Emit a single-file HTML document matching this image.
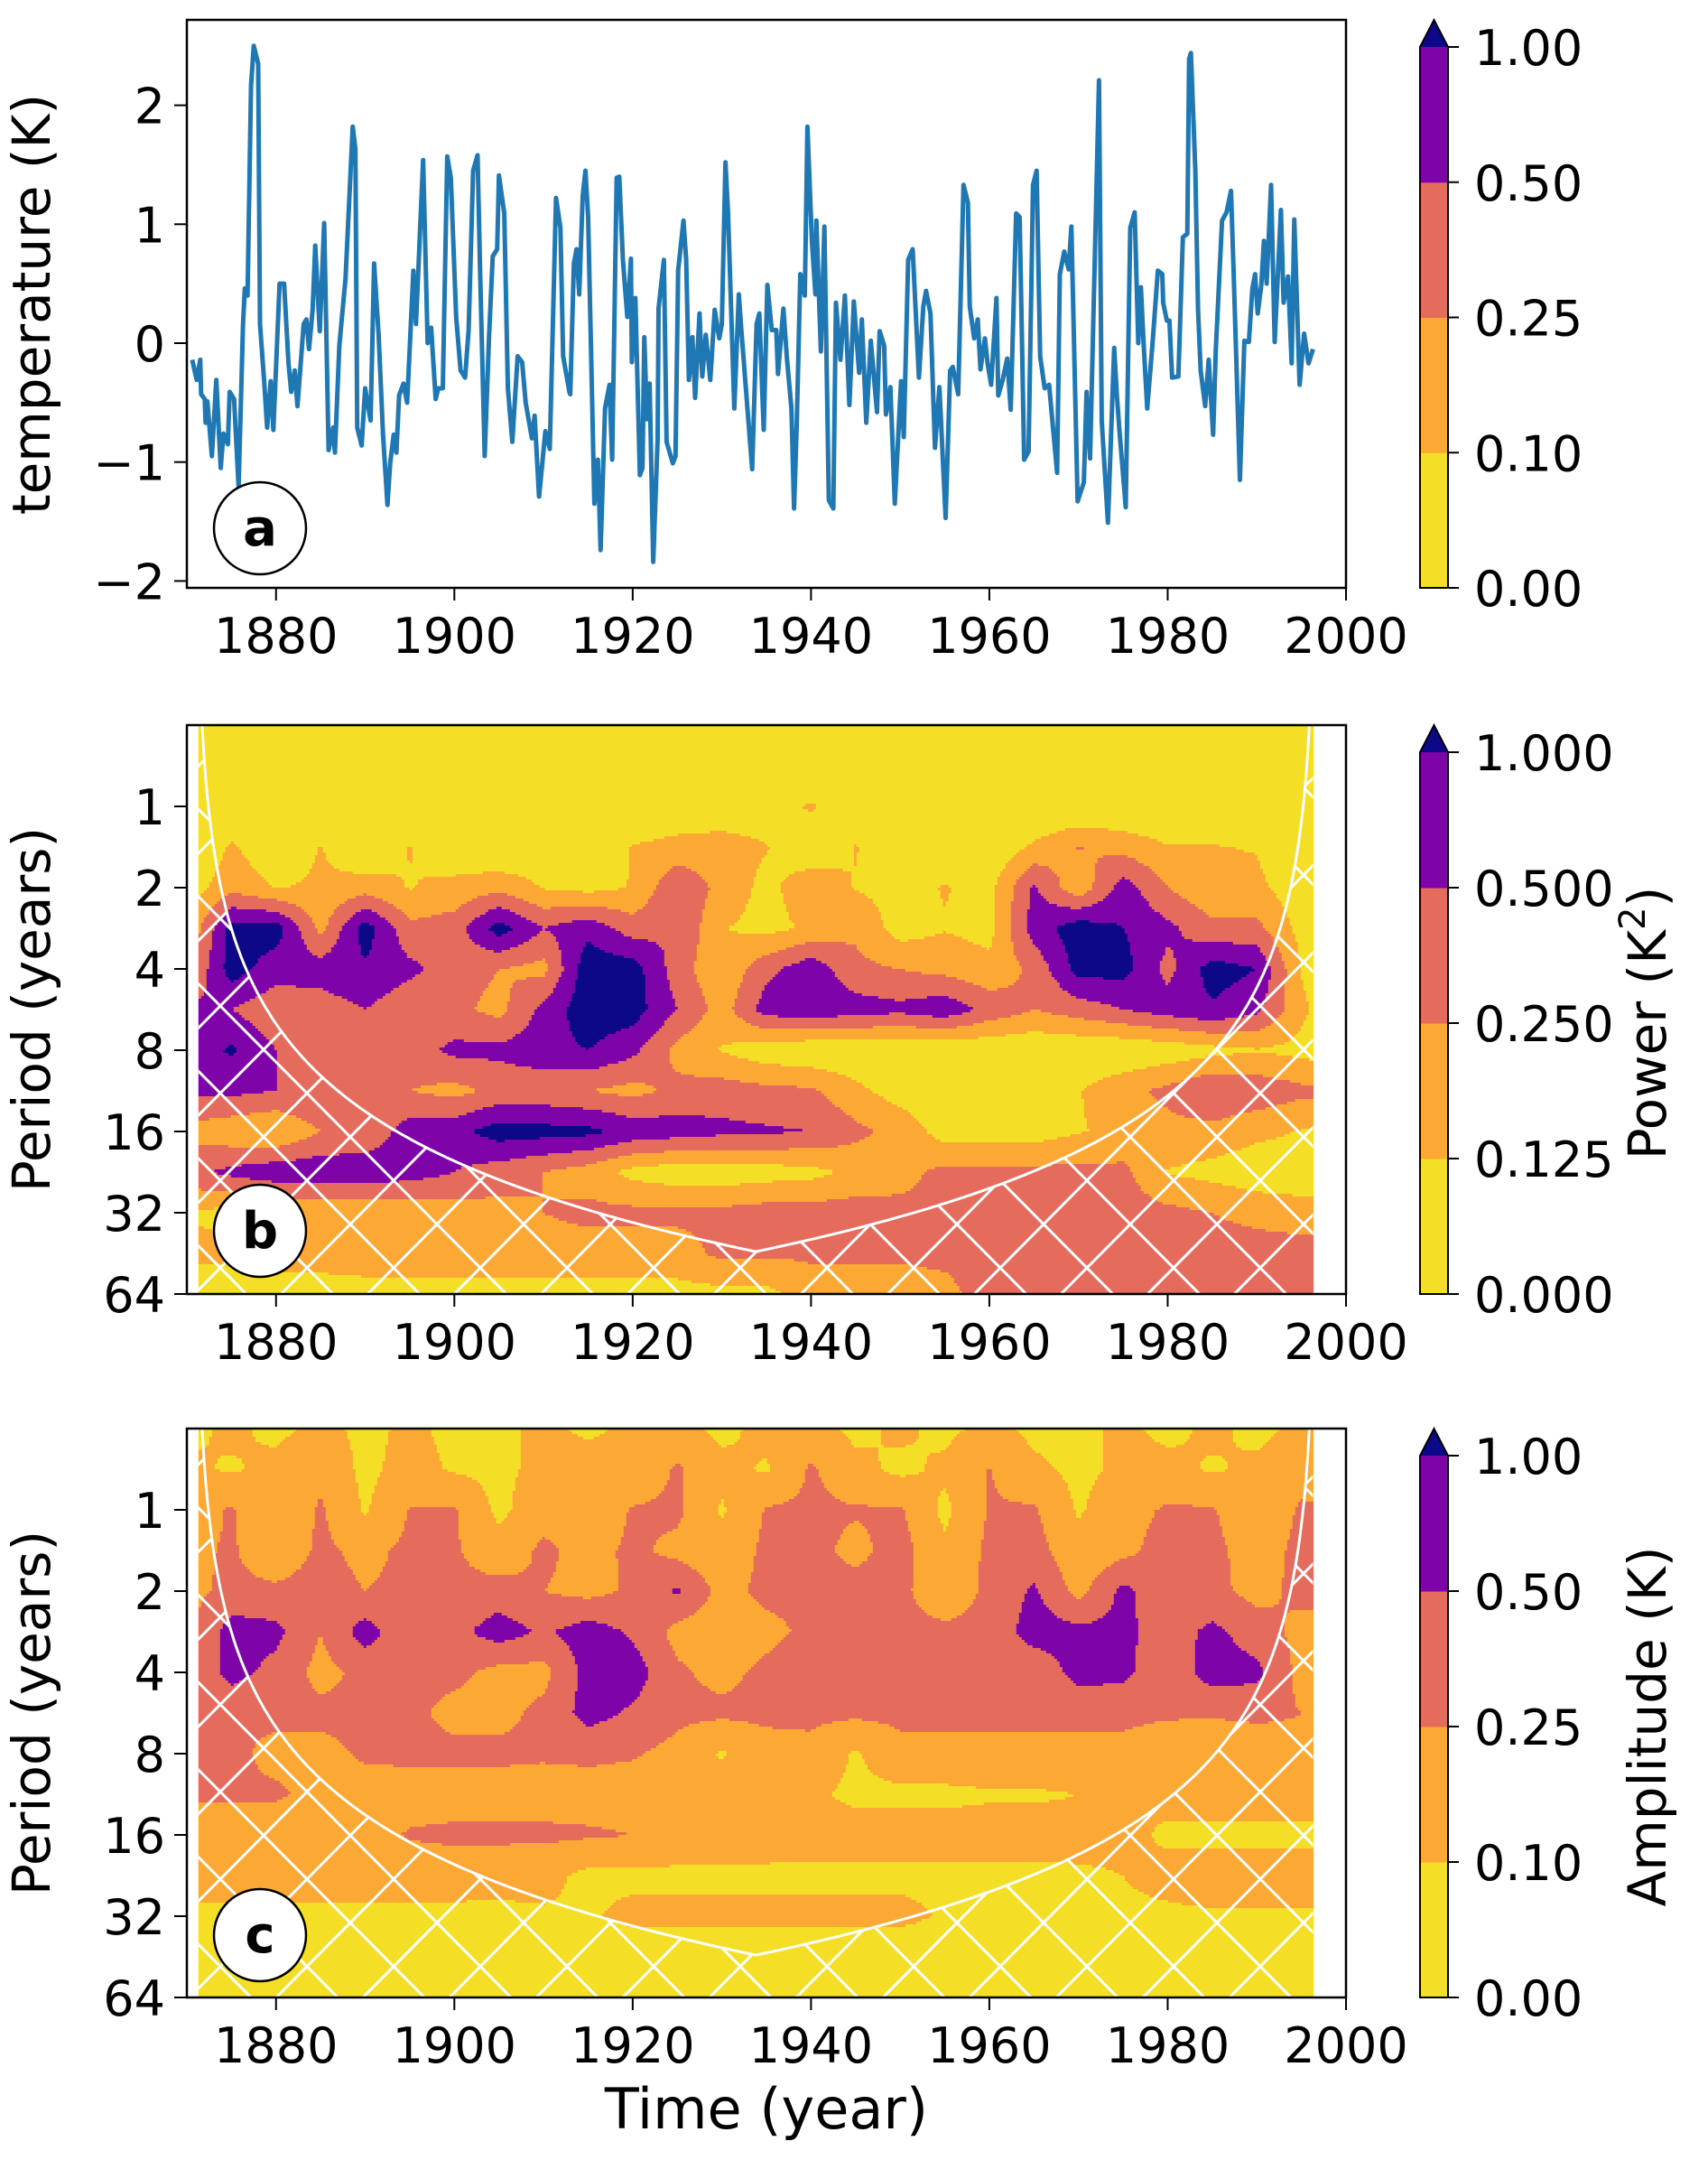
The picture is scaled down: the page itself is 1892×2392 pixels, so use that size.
<!DOCTYPE html>
<html><head><meta charset="utf-8"><title>Wavelet analysis</title>
<style>
html,body{margin:0;padding:0;background:#fff;}
svg{display:block;font-family:"DejaVu Sans","Liberation Sans",sans-serif;}
</style></head>
<body>
<svg id="fig" width="1892" height="2392" viewBox="0 0 1892 2392" xmlns="http://www.w3.org/2000/svg">
<defs>
<pattern id="hatch" patternUnits="userSpaceOnUse" x="4" y="1.9" width="96" height="96.7">
<line x1="0" y1="0" x2="96" y2="96.7" stroke="#fff" stroke-width="3"/>
<line x1="96" y1="0" x2="0" y2="96.7" stroke="#fff" stroke-width="3"/>
</pattern>
</defs>
<g id="layer"></g>
</svg>
<script>
// ---------- panel a data ----------
const tempYears = [1870.6,1871.1,1871.5,1871.6,1872.0,1872.1,1872.3,1872.8,1873.3,1873.8,1874.1,1874.6,1874.8,1875.3,1875.8,1876.3,1876.5,1876.8,1877.2,1877.5,1878.0,1878.2,1878.7,1879.0,1879.4,1879.7,1880.4,1880.9,1881.4,1881.7,1882.1,1882.4,1883.1,1883.4,1883.7,1884.1,1884.4,1884.9,1885.4,1885.9,1886.4,1886.6,1887.1,1887.8,1888.6,1888.9,1889.1,1889.6,1890.0,1890.6,1891.0,1891.5,1892.0,1892.5,1892.8,1893.2,1893.5,1893.8,1894.3,1894.7,1895.4,1895.7,1896.5,1897.0,1897.4,1897.9,1898.2,1898.7,1899.2,1899.6,1900.2,1900.7,1901.2,1901.6,1902.1,1902.6,1902.9,1903.4,1903.9,1904.3,1904.8,1905.0,1905.6,1906.0,1906.5,1907.1,1907.6,1908.0,1908.7,1909.0,1909.5,1909.8,1910.2,1910.7,1911.4,1911.9,1912.2,1912.9,1913.0,1913.4,1913.7,1914.0,1914.4,1914.7,1915.0,1915.7,1916.1,1916.4,1916.9,1917.4,1917.7,1918.2,1918.5,1918.9,1919.4,1919.8,1919.9,1920.3,1920.8,1921.1,1921.3,1921.6,1921.9,1922.3,1922.8,1922.9,1923.5,1923.8,1924.5,1924.8,1925.1,1925.7,1926.0,1926.3,1926.7,1927.0,1927.5,1927.8,1928.2,1928.7,1929.2,1929.7,1930.0,1930.4,1930.7,1931.4,1931.9,1932.2,1933.4,1933.9,1934.2,1934.7,1935.1,1935.6,1936.1,1936.3,1936.9,1937.3,1937.8,1938.1,1938.4,1938.8,1939.3,1939.6,1940.1,1940.5,1940.6,1941.1,1941.5,1942.0,1942.5,1942.8,1943.3,1943.8,1944.3,1944.8,1945.4,1945.7,1946.2,1946.7,1947.4,1947.7,1948.2,1948.4,1948.9,1949.4,1950.1,1950.4,1950.9,1951.4,1952.1,1952.6,1952.9,1953.4,1953.9,1954.4,1955.1,1955.6,1955.9,1956.5,1957.1,1957.6,1957.8,1958.3,1958.7,1959.0,1959.5,1959.8,1960.2,1960.8,1961.0,1961.5,1962.0,1962.4,1963.0,1963.4,1963.9,1964.4,1964.9,1965.3,1965.7,1966.2,1966.7,1967.6,1967.9,1968.4,1968.9,1969.2,1969.9,1970.6,1970.9,1971.3,1972.3,1972.6,1973.3,1974.0,1974.3,1974.6,1975.3,1975.8,1976.3,1976.7,1977.0,1977.3,1977.7,1978.3,1978.9,1979.4,1979.5,1979.9,1980.2,1980.5,1981.2,1981.7,1982.2,1982.4,1982.6,1983.1,1983.4,1983.7,1984.2,1984.6,1985.1,1985.4,1986.1,1986.6,1987.1,1987.4,1988.1,1988.6,1989.1,1989.5,1989.8,1990.1,1990.5,1990.8,1991.1,1991.6,1992.0,1992.7,1993.0,1993.5,1993.9,1994.2,1994.8,1995.3,1995.8,1996.3];
const tempVals = [-0.14,-0.31,-0.14,-0.43,-0.47,-0.67,-0.49,-0.95,-0.31,-1.05,-0.76,-0.85,-0.41,-0.47,-1.21,0.16,0.46,0.40,2.17,2.50,2.35,0.16,-0.35,-0.71,-0.32,-0.73,0.50,0.50,-0.17,-0.41,-0.23,-0.53,0.16,0.20,-0.05,0.28,0.82,0.10,1.01,-0.90,-0.71,-0.92,-0.02,0.55,1.82,1.63,-0.71,-0.86,-0.38,-0.65,0.67,0.07,-0.77,-1.36,-1.01,-0.77,-0.92,-0.44,-0.34,-0.50,0.61,0.16,1.54,0.00,0.13,-0.47,-0.38,-0.38,1.57,1.39,0.22,-0.23,-0.29,0.11,1.45,1.58,0.55,-0.95,0.07,0.73,0.79,1.41,1.09,-0.38,-0.83,-0.11,-0.16,-0.50,-0.80,-0.61,-1.29,-1.06,-0.74,-0.89,1.22,0.97,-0.11,-0.41,-0.43,0.67,0.79,0.41,1.24,1.45,1.06,-1.35,-0.98,-1.74,-0.55,-0.35,-0.98,1.39,1.40,0.70,0.22,0.71,-0.16,0.38,-1.11,-1.05,0.05,-0.64,-0.34,-1.84,-0.80,0.29,0.70,-0.83,-1.01,-0.95,0.61,1.03,0.70,-0.31,0.05,-0.46,0.25,-0.28,0.07,-0.31,0.28,0.04,0.16,1.52,1.09,-0.55,0.41,0.10,-1.06,0.16,0.25,-0.73,0.49,0.11,0.11,-0.26,0.29,-0.13,-0.55,-1.39,-0.68,0.58,0.40,1.82,0.85,0.41,1.03,-0.07,0.98,-1.32,-1.39,0.34,-0.14,0.40,-0.52,0.35,-0.25,0.20,-0.67,0.02,-0.58,0.10,-0.02,-0.60,-0.37,-1.35,-0.32,-0.79,0.70,0.79,-0.29,0.31,0.44,0.25,-0.88,-0.37,-1.47,-0.23,-0.20,-0.43,1.33,1.18,0.31,0.04,0.20,-0.22,0.04,-0.17,-0.35,0.38,-0.44,-0.31,-0.13,-0.56,1.09,1.06,-0.98,-0.91,1.33,1.45,-0.11,-0.38,-0.35,-1.09,0.58,0.77,0.62,0.98,-1.33,-1.17,-0.41,-0.97,2.21,-0.65,-1.51,-0.04,-0.44,-0.74,-1.38,0.97,1.10,0.00,0.47,0.00,-0.55,0.00,0.61,0.58,0.34,0.19,0.19,-0.29,-0.28,0.89,0.92,2.39,2.44,1.45,0.28,-0.23,-0.53,-0.14,-0.77,-0.05,1.03,1.10,1.28,0.58,-1.15,0.02,0.01,0.46,0.58,0.25,0.49,0.86,0.50,1.33,0.01,1.12,0.34,0.56,-0.17,1.04,-0.35,0.08,-0.17,-0.05];
const tempTicks = [-2,-1,0,1,2];
const yearTicks = [1880,1900,1920,1940,1960,1980,2000];
const periodTicks = [1,2,4,8,16,32,64];

// ---------- wavelet grids (columns: 1870..2000 step 5; rows: log2 period -1..6 step 0.5) ----------
const gridYears = [1870,1875,1880,1885,1890,1895,1900,1905,1910,1915,1920,1925,1930,1935,1940,1945,1950,1955,1960,1965,1970,1975,1980,1985,1990,1995,2000];
const gridLog2Period = [-1,-0.5,0,0.5,1,1.5,2,2.5,3,3.5,4,4.5,5,5.5,6];
const powerGrid = [
[.03,.03,.03,.03,.03,.03,.03,.03,.03,.03,.03,.03,.03,.03,.03,.03,.03,.03,.03,.03,.03,.03,.03,.03,.03,.03,.03],
[.04,.04,.04,.04,.04,.04,.04,.04,.04,.04,.04,.05,.04,.04,.05,.04,.04,.04,.04,.04,.04,.04,.04,.04,.04,.04,.04],
[.05,.06,.06,.06,.06,.06,.06,.06,.06,.06,.06,.07,.07,.08,.14,.07,.06,.06,.06,.06,.06,.06,.06,.06,.05,.04,.04],
[.05,.14,.07,.13,.06,.13,.07,.06,.08,.06,.13,.16,.18,.13,.07,.13,.07,.08,.07,.14,.26,.20,.13,.13,.12,.05,.05],
[.08,.20,.12,.14,.18,.12,.16,.20,.12,.10,.13,.45,.20,.10,.20,.12,.10,.13,.10,.55,.15,.70,.25,.14,.15,.08,.05],
[.12,1.3,1.4,.20,1.4,.30,.35,1.4,.50,.80,.35,.50,.13,.10,.14,.22,.09,.12,.10,.70,1.5,1.0,.60,.30,.30,.10,.05],
[.20,1.4,.70,.70,.90,.60,.35,.25,.20,1.6,1.4,.35,.14,.40,.80,.30,.25,.20,.15,.30,1.3,1.3,.40,1.4,1.0,.12,.05],
[.60,.50,.30,.35,.50,.30,.30,.20,.60,1.6,1.4,.50,.18,.70,.80,.70,.60,.80,.40,.25,.35,.50,.70,.90,.60,.15,.05],
[.70,1.1,.50,.25,.30,.35,.60,.60,.80,1.0,.60,.20,.12,.08,.07,.07,.07,.07,.07,.07,.07,.07,.08,.10,.12,.10,.08],
[.60,.60,.50,.50,.40,.25,.20,.30,.30,.25,.20,.30,.35,.30,.28,.15,.09,.08,.08,.09,.12,.20,.30,.50,.40,.30,.30],
[.20,.15,.12,.25,.30,.70,.80,1.4,1.3,1.2,.80,.70,.60,.55,.50,.30,.20,.09,.09,.09,.12,.14,.20,.20,.15,.12,.12],
[.40,.60,.80,.80,.80,.70,.50,.35,.25,.18,.10,.08,.08,.09,.10,.15,.20,.30,.30,.30,.30,.30,.12,.10,.08,.08,.08],
[.12,.10,.12,.15,.15,.15,.18,.20,.25,.30,.30,.30,.30,.35,.35,.35,.30,.30,.30,.45,.40,.35,.30,.25,.20,.17,.15],
[.15,.15,.16,.17,.17,.17,.18,.18,.18,.18,.18,.18,.30,.28,.28,.28,.28,.30,.35,.35,.35,.35,.35,.35,.35,.35,.35],
[.08,.08,.09,.09,.10,.10,.10,.10,.10,.10,.10,.10,.10,.10,.18,.18,.18,.20,.35,.35,.35,.35,.35,.35,.35,.35,.35]
];
const ampGrid = [
[.08,.12,.08,.13,.08,.12,.08,.08,.13,.08,.13,.14,.08,.13,.14,.08,.12,.08,.13,.08,.08,.12,.08,.12,.08,.12,.08],
[.12,.09,.13,.20,.08,.14,.09,.08,.13,.18,.12,.28,.13,.09,.28,.13,.08,.12,.26,.12,.08,.12,.13,.09,.12,.18,.10],
[.14,.28,.10,.28,.09,.26,.27,.08,.18,.12,.27,.30,.09,.27,.30,.27,.28,.08,.27,.28,.09,.18,.28,.27,.13,.28,.28],
[.20,.28,.13,.30,.20,.30,.28,.14,.30,.18,.30,.20,.14,.30,.32,.20,.35,.12,.30,.35,.14,.20,.35,.30,.18,.30,.30],
[.20,.30,.30,.35,.25,.30,.30,.35,.25,.20,.28,.55,.20,.30,.30,.35,.30,.15,.30,.55,.20,.60,.30,.30,.20,.30,.30],
[.20,.70,.60,.25,.70,.28,.40,.70,.45,.70,.45,.20,.15,.20,.30,.30,.30,.30,.30,.70,.60,.60,.35,.60,.35,.20,.20],
[.25,.65,.40,.20,.30,.30,.30,.20,.20,.65,.70,.28,.20,.30,.40,.30,.30,.28,.30,.30,.65,.60,.30,.70,.60,.20,.20],
[.30,.28,.30,.30,.30,.30,.20,.20,.30,.65,.45,.30,.30,.30,.30,.30,.30,.30,.30,.30,.30,.30,.28,.28,.30,.25,.20],
[.30,.30,.20,.20,.28,.30,.30,.30,.28,.30,.27,.20,.09,.18,.20,.09,.20,.20,.20,.20,.20,.20,.15,.12,.15,.20,.20],
[.28,.28,.28,.20,.18,.17,.17,.17,.17,.17,.17,.17,.17,.15,.12,.08,.08,.08,.09,.09,.10,.10,.12,.15,.15,.15,.15],
[.15,.15,.15,.15,.18,.27,.30,.30,.30,.28,.25,.20,.18,.17,.15,.15,.15,.15,.15,.15,.13,.12,.09,.08,.08,.08,.08],
[.15,.15,.15,.15,.15,.15,.15,.14,.13,.08,.08,.08,.08,.08,.08,.08,.08,.08,.08,.08,.09,.10,.12,.15,.15,.15,.15],
[.08,.08,.08,.08,.08,.08,.08,.08,.09,.09,.13,.13,.13,.13,.13,.13,.13,.09,.09,.09,.09,.09,.09,.09,.09,.09,.09],
[.05,.05,.05,.05,.05,.05,.05,.05,.05,.05,.05,.05,.05,.05,.05,.05,.05,.05,.05,.05,.05,.05,.05,.05,.05,.05,.05],
[.05,.05,.05,.05,.05,.05,.05,.05,.05,.05,.05,.05,.05,.05,.05,.05,.05,.05,.05,.05,.05,.05,.05,.05,.05,.05,.05]
];
const powerLevels = [0.125,0.25,0.5,1.0];
const ampLevels = [0.1,0.25,0.5,1.0];
const powerTickLabels = ["0.000","0.125","0.250","0.500","1.000"];
const ampTickLabels = ["0.00","0.10","0.25","0.50","1.00"];
const levelColors = ["#f5df26","#fba835","#e56b5d","#7e03a8","#0d0887"];

// ---------- layout ----------
const NS = "http://www.w3.org/2000/svg";
const root = document.getElementById("layer");
const X0 = 207, PXY = 9.877;
const xOf = y => X0 + (y - 1870) * PXY;
const yearOf = x => 1870 + (x - X0) / PXY;
const AX_L = 207, AX_R = 1491;
const DATA_L = xOf(1871.3), DATA_R = xOf(1996.3);
const panelA = {top:22, bottom:651};
const panelB = {top:803, bottom:1433};
const panelC = {top:1582, bottom:2212};
const tempY = v => 380 - v * 131.7;

function el(tag, parent){ const e = document.createElementNS(NS, tag); parent.appendChild(e); return e; }
function txt(parent, s, x, y, size, anchor){
  const t = el("text", parent);
  t.setAttribute("x", x); t.setAttribute("y", y);
  t.setAttribute("font-size", size); t.setAttribute("text-anchor", anchor || "middle");
  t.setAttribute("fill", "#000");
  t.textContent = s;
  return t;
}

function sampleGrid(grid, yr, p){
  let fx = (yr - gridYears[0]) / 5, fy = (p - gridLog2Period[0]) / 0.5;
  fx = Math.max(0, Math.min(gridYears.length - 1.0001, fx));
  fy = Math.max(0, Math.min(gridLog2Period.length - 1.0001, fy));
  const i = Math.floor(fx), j = Math.floor(fy), u = fx - i, v = fy - j;
  const L = (a) => Math.log(a);
  const val = (1-u)*(1-v)*L(grid[j][i]) + u*(1-v)*L(grid[j][i+1]) + (1-u)*v*L(grid[j+1][i]) + u*v*L(grid[j+1][i+1]);
  return Math.exp(val);
}
function classOf(v, levels){ let c = 0; for (const l of levels) if (v >= l) c++; return c; }

function drawContour(panel, grid, levels, name){
  const g = el("g", root);
  
  
  const step = 3, octave = (panel.bottom - panel.top) / 7;
  for (let y = panel.top; y < panel.bottom; y += step) {
    const p = -1 + (y + step/2 - panel.top) / octave;
    let runStart = DATA_L, runCls = -1;
    const flush = (xEnd) => {
      if (runCls < 0) return;
      const r = el("rect", g);
      
      
      r.setAttribute("x", runStart.toFixed(1)); r.setAttribute("y", y);
      r.setAttribute("width", (xEnd - runStart + 0.6).toFixed(1));
      r.setAttribute("height", Math.min(step, panel.bottom - y) + 0.5);
      r.setAttribute("fill", levelColors[runCls]);
    };
    for (let x = DATA_L; x < DATA_R; x += step) {
      const c = classOf(sampleGrid(grid, yearOf(x + step/2), p), levels);
      if (c !== runCls) { flush(x); runStart = x; runCls = c; }
    }
    flush(DATA_R);
  }
}

function coiPoints(panel){
  const octave = (panel.bottom - panel.top) / 7, pts = [];
  for (let t = 1871.3; t <= 1996.31; t += 0.2) {
    const per = 0.71 * Math.max(0.01, Math.min(t - 1871.0, 1996.6 - t));
    let p = Math.log2(per); if (p < -1) p = -1.02;
    let y = panel.top + (p + 1) * octave; y = Math.min(y, panel.bottom);
    pts.push([xOf(t), y]);
  }
  return pts;
}
function drawCOI(panel, id){
  const pts = coiPoints(panel);
  const cp = el("clipPath", root); cp.setAttribute("id", id);
  const poly = el("polygon", cp);
  const all = [[DATA_L, panel.bottom]].concat(pts, [[DATA_R, panel.bottom]]);
  poly.setAttribute("points", all.map(q => q[0].toFixed(1)+","+q[1].toFixed(1)).join(" "));
  const h = el("rect", root);
  
  
  h.setAttribute("x", DATA_L); h.setAttribute("y", panel.top);
  h.setAttribute("width", DATA_R - DATA_L); h.setAttribute("height", panel.bottom - panel.top);
  h.setAttribute("fill", "url(#hatch)"); h.setAttribute("clip-path", "url(#"+id+")");
  const line = el("polyline", root);
  
  
  line.setAttribute("points", pts.map(q => q[0].toFixed(1)+","+q[1].toFixed(1)).join(" "));
  line.setAttribute("fill", "none"); line.setAttribute("stroke", "#fff"); line.setAttribute("stroke-width", "3");
}

function drawFrame(panel, name){
  const r = el("rect", root);
  
  
  r.setAttribute("x", AX_L); r.setAttribute("y", panel.top);
  r.setAttribute("width", AX_R - AX_L); r.setAttribute("height", panel.bottom - panel.top);
  r.setAttribute("fill", "none"); r.setAttribute("stroke", "#000"); r.setAttribute("stroke-width", "2.5");
}
function drawXAxis(panel, name){
  const g = el("g", root);
  
  
  for (const yr of yearTicks) {
    const x = xOf(yr);
    const t = el("line", g);
    
    
    t.setAttribute("x1", x); t.setAttribute("x2", x); t.setAttribute("y1", panel.bottom); t.setAttribute("y2", panel.bottom + 14);
    t.setAttribute("stroke", "#000"); t.setAttribute("stroke-width", "2");
    const l = txt(g, String(yr), x, panel.bottom + 72, 54);
    
    
  }
}
function drawPeriodAxis(panel, name){
  const g = el("g", root);
  
  
  const octave = (panel.bottom - panel.top) / 7;
  for (const per of periodTicks) {
    const y = panel.top + (Math.log2(per) + 1) * octave;
    const t = el("line", g);
    
    
    t.setAttribute("x1", AX_L - 14); t.setAttribute("x2", AX_L); t.setAttribute("y1", y); t.setAttribute("y2", y);
    t.setAttribute("stroke", "#000"); t.setAttribute("stroke-width", "2");
    const l = txt(g, String(per), AX_L - 24, y + 20, 54, "end");
    
    
  }
}
function drawColorbar(panel, labels, name){
  const g = el("g", root);
  
  
  const x0 = 1573, x1 = 1604, top = panel.top + 30, bot = panel.bottom, h = (bot - top) / 4;
  for (let i = 0; i < 4; i++) {
    const r = el("rect", g);
    
    
    r.setAttribute("x", x0); r.setAttribute("y", bot - (i+1)*h); r.setAttribute("width", x1 - x0); r.setAttribute("height", h + 0.5);
    r.setAttribute("fill", levelColors[i]);
  }
  const tri = el("polygon", g);
  
  
  tri.setAttribute("points", `${x0},${top} ${(x0+x1)/2},${panel.top} ${x1},${top}`);
  tri.setAttribute("fill", levelColors[4]);
  const out = el("polygon", g);
  
  
  out.setAttribute("points", `${x0},${bot} ${x0},${top} ${(x0+x1)/2},${panel.top} ${x1},${top} ${x1},${bot}`);
  out.setAttribute("fill", "none"); out.setAttribute("stroke", "#000"); out.setAttribute("stroke-width", "2");
  for (let i = 0; i < 5; i++) {
    const y = bot - i*h;
    const t = el("line", g);
    
    
    t.setAttribute("x1", x1); t.setAttribute("x2", x1 + 12); t.setAttribute("y1", y); t.setAttribute("y2", y);
    t.setAttribute("stroke", "#000"); t.setAttribute("stroke-width", "2");
    const l = txt(g, labels[i], 1633, y + 20, 54, "start");
    
    
  }
}
function drawBadge(cx, cy, letter, name){
  const g = el("g", root);
  
  
  const c = el("ellipse", g);
  c.setAttribute("cx", cx); c.setAttribute("cy", cy); c.setAttribute("rx", 51); c.setAttribute("ry", 51);
  c.setAttribute("fill", "#fff"); c.setAttribute("stroke", "#000"); c.setAttribute("stroke-width", "2.5");
  const t = txt(g, letter, cx, cy + 19, 56);
  t.setAttribute("font-weight", "bold");
}
function rotLabel(s, x, y, name){
  const t = txt(root, s, x, y, 58);
  t.setAttribute("transform", `rotate(-90 ${x} ${y})`);
  
  
  return t;
}

// ---------- panel a ----------
{
  const line = el("polyline", root);
  
  
  line.setAttribute("points", tempYears.map((yr, i) => xOf(yr).toFixed(1) + "," + tempY(tempVals[i]).toFixed(1)).join(" "));
  line.setAttribute("fill", "none"); line.setAttribute("stroke", "#1f77b4"); line.setAttribute("stroke-width", "5");
  line.setAttribute("stroke-linejoin", "round");
  drawFrame(panelA, "panel-a-frame");
  drawXAxis(panelA, "panel-a-x-axis");
  const g = el("g", root);
  
  
  for (const v of tempTicks) {
    const y = tempY(v);
    const t = el("line", g);
    
    
    t.setAttribute("x1", AX_L - 14); t.setAttribute("x2", AX_L); t.setAttribute("y1", y); t.setAttribute("y2", y);
    t.setAttribute("stroke", "#000"); t.setAttribute("stroke-width", "2");
    const l = txt(g, v < 0 ? "\u2212" + Math.abs(v) : String(v), AX_L - 24, y + 20, 54, "end");
    
    
  }
  rotLabel("temperature (K)", 55, 337, "y-axis-title-temperature");
  drawBadge(288, 585, "a", "panel-label-a");
  drawColorbar(panelA, ampTickLabels, "colorbar-a");
}

// ---------- panel b ----------
drawContour(panelB, powerGrid, powerLevels, "power-contours");
drawCOI(panelB, "coiB");
drawFrame(panelB, "panel-b-frame");
drawXAxis(panelB, "panel-b-x-axis");
drawPeriodAxis(panelB, "panel-b-y-axis");
rotLabel("Period (years)", 55, 1118, "y-axis-title-period-b");
drawBadge(288, 1363, "b", "panel-label-b");
drawColorbar(panelB, powerTickLabels, "colorbar-power");
{
  const t = rotLabel("Power (K", 1845, 1133, "colorbar-title-power");
  const sup = document.createElementNS(NS, "tspan");
  sup.setAttribute("baseline-shift", "super"); sup.setAttribute("font-size", "40");
  sup.textContent = "2";
  t.appendChild(sup);
  const close = document.createElementNS(NS, "tspan");
  close.textContent = ")";
  t.appendChild(close);
}

// ---------- panel c ----------
drawContour(panelC, ampGrid, ampLevels, "amplitude-contours");
drawCOI(panelC, "coiC");
drawFrame(panelC, "panel-c-frame");
drawXAxis(panelC, "panel-c-x-axis");
drawPeriodAxis(panelC, "panel-c-y-axis");
rotLabel("Period (years)", 55, 1897, "y-axis-title-period-c");
drawBadge(288, 2143, "c", "panel-label-c");
drawColorbar(panelC, ampTickLabels, "colorbar-amplitude");
rotLabel("Amplitude (K)", 1845, 1912, "colorbar-title-amplitude");
{
  const t = txt(root, "Time (year)", 849, 2357, 62);
  
  
}
</script>
</body></html>
